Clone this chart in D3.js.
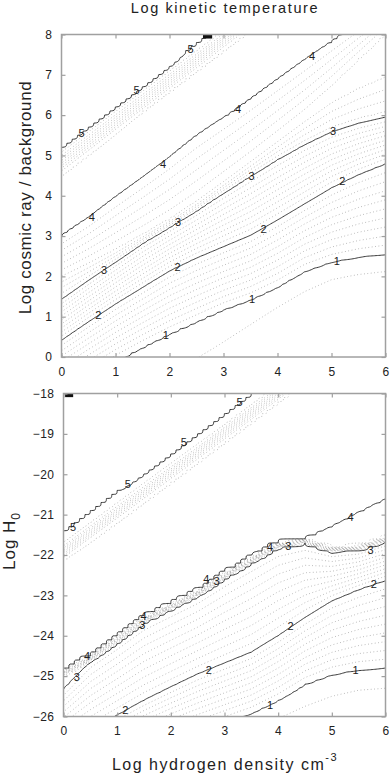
<!DOCTYPE html>
<html lang="en">
<head>
<meta charset="UTF-8">
<script src="https://d3js.org/d3.v7.min.js"></script>
<style>
  body { margin: 0; background: #fff; }
  svg { display: block; font-family: "Liberation Sans", Arial, sans-serif; }
</style>
</head>
<body>
<svg width="390" height="775"></svg>
<script>
var xCols = [0, 0.5, 1, 1.5, 2, 2.5, 3, 3.5, 4, 4.5, 5, 5.5, 6];

// top panel: y (log cosmic ray / background) of each temperature level per column
var top09 = [-2.0, -1.6, -1.25, -0.9, -0.5, -0.05, 0.36, 0.8, 1.23, 1.62, 1.92, 2.05, 2.12];
var top1  = [-0.9, -0.5, -0.1, 0.26, 0.59, 0.89, 1.19, 1.43, 1.74, 2.13, 2.36, 2.48, 2.55];
var top2  = [0.42, 0.88, 1.32, 1.73, 2.14, 2.46, 2.74, 3.02, 3.4, 3.8, 4.2, 4.53, 4.8];
var top3  = [1.42, 1.9, 2.36, 2.82, 3.22, 3.63, 4.07, 4.49, 4.9, 5.27, 5.59, 5.8, 5.95];
var top31 = [1.58, 2.0, 2.42, 2.87, 3.27, 3.68, 4.13, 4.56, 4.98, 5.36, 5.69, 5.91, 6.07];
var top34 = [2.0, 2.32, 2.66, 3.02, 3.4, 3.83, 4.32, 4.82, 5.32, 5.82, 6.29, 6.64, 6.92];
var top35 = [2.16, 2.5, 2.87, 3.25, 3.65, 4.1, 4.6, 5.1, 5.62, 6.15, 6.75, 7.4, 8.05];
var top4  = [2.97, 3.42, 3.93, 4.42, 4.92, 5.46, 5.91, 6.37, 6.85, 7.33, 7.8, 8.25, 8.7];
var top41 = [4.56, 5.07, 5.59, 6.1, 6.62, 7.13, 7.65, 8.16, 8.68, 9.19, 9.71, 10.22, 10.74];
var top49 = [5.06, 5.56, 6.06, 6.56, 7.06, 7.56, 8.06, 8.56, 9.06, 9.56, 10.06, 10.56, 11.06];
var top5  = [5.21, 5.73, 6.25, 6.77, 7.29, 7.81, 8.33, 8.85, 9.37, 9.89, 10.41, 10.93, 11.45];

// bottom panel: y (log H0) of each temperature level per column
var bot09 = [-28.0, -27.8, -27.6, -27.4, -27.15, -26.9, -26.6, -26.3, -26.05, -25.75, -25.5, -25.35, -25.3];
var bot1  = [-27.6, -27.35, -27.1, -26.85, -26.6, -26.38, -26.15, -25.92, -25.6, -25.2, -24.96, -24.84, -24.8];
var bot2  = [-26.7, -26.35, -25.97, -25.6, -25.27, -24.95, -24.68, -24.41, -24.0, -23.55, -23.13, -22.85, -22.62];
var bot3  = [-25.34, -24.62, -24.16, -23.67, -23.34, -23.01, -22.58, -22.19, -21.82, -21.7, -21.92, -21.88, -21.68];
var bot31 = [-24.98, -24.6, -24.14, -23.65, -23.32, -22.99, -22.56, -22.17, -21.8, -21.69, -21.9, -21.86, -21.66];
var bot39 = [-24.9, -24.52, -24.06, -23.57, -23.24, -22.91, -22.48, -22.09, -21.72, -21.64, -21.82, -21.78, -21.58];
var bot4  = [-24.88, -24.5, -24.04, -23.55, -23.22, -22.89, -22.46, -22.07, -21.7, -21.63, -21.33, -20.97, -20.64];
var bot41 = [-22.1, -21.61, -21.12, -20.63, -20.14, -19.65, -19.16, -18.67, -18.18, -17.69, -17.2, -16.71, -16.22];
var bot49 = [-21.74, -21.25, -20.76, -20.27, -19.78, -19.29, -18.8, -18.31, -17.82, -17.33, -16.84, -16.35, -15.86];
var bot5  = [-21.38, -20.89, -20.4, -19.91, -19.42, -18.93, -18.44, -17.95, -17.46, -16.97, -16.48, -15.99, -15.5];

// contour levels: every 0.1, integers solid
var levels = d3.range(9, 51).map(function(d) { return d / 10; });

// labels on the solid lines
var topLabX = [0.37, 1.39, 2.39, 0.56, 1.88, 3.27, 4.64, 0.79, 2.16, 3.52, 5.03, 0.68, 2.15, 3.74, 5.2, 1.93, 3.53, 5.1];
var topLabY = [5.55, 6.62, 7.64, 3.47, 4.8, 6.15, 7.46, 2.16, 3.34, 4.5, 5.61, 1.04, 2.24, 3.17, 4.36, 0.55, 1.44, 2.39];
var topLabT = ["5", "5", "5", "4", "4", "4", "4", "3", "3", "3", "3", "2", "2", "2", "2", "1", "1", "1"];
var botLabX = [0.18, 1.2, 2.24, 3.28, 0.44, 1.49, 2.66, 3.85, 5.35, 0.25, 1.47, 2.85, 4.19, 5.72, 1.15, 2.71, 4.23, 5.78, 3.85, 5.44];
var botLabY = [-21.3, -20.25, -19.19, -18.2, -24.51, -23.52, -22.6, -21.79, -21.07, -25.03, -23.73, -22.64, -21.77, -21.87, -25.83, -24.84, -23.77, -22.72, -25.71, -24.84];
var botLabT = ["5", "5", "5", "5", "4", "4", "4", "4", "4", "3", "3", "3", "3", "3", "2", "2", "2", "2", "1", "1"];

// dark blobs where the level-5 contour bunches up at the top edge
var topBlob = [2.62, 2.79, 7.9, 8.0];
var botBlob = [0.03, 0.18, -18.09, -18.0];

var xTicks = [0, 1, 2, 3, 4, 5, 6];
var topTicks = [0, 1, 2, 3, 4, 5, 6, 7, 8];
var botTicks = [-26, -25, -24, -23, -22, -21, -20, -19, -18];

var svg = d3.select("svg");
var step = 0.1;   // model grid spacing
var k = 4;        // bilinear refinement for contouring

// temperature on the 0.1 grid, then bilinearly refined
function buildField(anchors, yMin, yMax) {
    var nx = Math.round(6 / step) + 1, ny = Math.round((yMax - yMin) / step) + 1;
    var posScales = anchors.map(function(a) { return d3.scaleLinear().domain(xCols).range(a[1]); });
    var lv = anchors.map(function(a) { return a[0]; });
    var coarse = new Array(nx * ny);
    for (var i = 0; i < nx; i++) {
        var ys = posScales.map(function(s) { return s(i / 10); });
        var tOfY = d3.scaleLinear().domain(ys).range(lv).clamp(true);
        for (var j = 0; j < ny; j++) coarse[j * nx + i] = tOfY(yMin + j / 10);
    }
    var fx = (nx - 1) * k + 1, fy = (ny - 1) * k + 1;
    var fine = new Float64Array(fx * fy);
    for (var q = 0; q < fy; q++) {
        var j0 = Math.min(Math.floor(q / k), ny - 2), ty = q / k - j0;
        for (var p = 0; p < fx; p++) {
            var i0 = Math.min(Math.floor(p / k), nx - 2), tx = p / k - i0;
            var a = coarse[j0 * nx + i0], b = coarse[j0 * nx + i0 + 1],
                c = coarse[(j0 + 1) * nx + i0], d = coarse[(j0 + 1) * nx + i0 + 1];
            fine[q * fx + p] = (a * (1 - tx) + b * tx) * (1 - ty) + (c * (1 - tx) + d * tx) * ty;
        }
    }
    return {nx: fx, ny: fy, values: fine};
}

function panel(id, box, yDomain, yTicks, anchors, labX, labY, labT, blob) {
    var x = d3.scaleLinear().domain([0, 6]).range([box.l, box.r]);
    var y = d3.scaleLinear().domain(yDomain).range([box.b, box.t]);

    svg.append("clipPath").attr("id", id)
        .append("rect").attr("x", box.l).attr("y", box.t)
        .attr("width", box.r - box.l).attr("height", box.b - box.t);

    var f = buildField(anchors, yDomain[0], yDomain[1]);
    var cs = d3.contours().size([f.nx, f.ny]).thresholds(levels)(f.values);
    var h = step / k;
    var path = d3.geoPath(d3.geoTransform({point: function(cx, cy) {
        this.stream.point(x((cx - 0.5) * h), y(yDomain[0] + (cy - 0.5) * h));
    }}));

    var g = svg.append("g").attr("clip-path", "url(#" + id + ")");
    g.selectAll("path").data(cs).enter().append("path")
        .attr("d", path)
        .attr("fill", "none")
        .each(function(d) {
            var solid = Math.abs(d.value - Math.round(d.value)) < 1e-6;
            d3.select(this)
                .attr("stroke", solid ? "#222" : "#8a8a8a")
                .attr("stroke-width", solid ? 0.9 : 0.7)
                .attr("stroke-dasharray", solid ? null : "0.8,2.6");
        });

    g.append("rect")
        .attr("x", x(blob[0])).attr("y", y(blob[3]) - 2)
        .attr("width", x(blob[1]) - x(blob[0]))
        .attr("height", y(blob[2]) - y(blob[3]) + 2)
        .attr("fill", "#111");

    svg.append("g").selectAll("text").data(labT).enter().append("text")
        .attr("x", function(d, i) { return x(labX[i]); })
        .attr("y", function(d, i) { return y(labY[i]) + 4; })
        .attr("text-anchor", "middle")
        .attr("font-size", 11)
        .attr("fill", "#222")
        .text(function(d) { return d; });

    // frame and inward ticks
    svg.append("rect")
        .attr("x", box.l).attr("y", box.t)
        .attr("width", box.r - box.l).attr("height", box.b - box.t)
        .attr("fill", "none").attr("stroke", "#a0a0a0").attr("stroke-width", 1.5);

    var fmt = d3.format("d");
    var axes = [
        [d3.axisBottom(x).tickValues(xTicks).tickSize(-4).tickPadding(10).tickFormat(fmt), "translate(0," + box.b + ")"],
        [d3.axisTop(x).tickValues(xTicks).tickSize(-4).tickFormat(""), "translate(0," + box.t + ")"],
        [d3.axisLeft(y).tickValues(yTicks).tickSize(-4).tickPadding(9).tickFormat(fmt), "translate(" + box.l + ",0)"],
        [d3.axisRight(y).tickValues(yTicks).tickSize(-4).tickFormat(""), "translate(" + box.r + ",0)"]
    ];
    axes.forEach(function(a) {
        var ag = svg.append("g").attr("transform", a[1]).call(a[0]);
        ag.select(".domain").remove();
        ag.selectAll("line").attr("stroke", "#a0a0a0").attr("stroke-width", 1.2);
        ag.selectAll("text")
            .attr("font-size", 12)
            .attr("font-family", "'Liberation Sans', Arial, sans-serif")
            .attr("letter-spacing", 0.5)
            .attr("fill", "#222");
    });
}

panel("clipTop", {l: 61.5, r: 385.5, t: 34.5, b: 357}, [0, 8], topTicks,
    [[0.5, top09.map(function(v) { return v - 2; })], [0.9, top09], [1, top1], [2, top2], [3, top3],
     [3.1, top31], [3.4, top34], [3.5, top35], [4, top4], [4.1, top41], [4.9, top49], [5, top5],
     [6, top5.map(function(v) { return v + 0.02; })]],
    topLabX, topLabY, topLabT, topBlob);

panel("clipBot", {l: 63.5, r: 385.5, t: 393.5, b: 716.5}, [-26, -18], botTicks,
    [[0.5, bot09.map(function(v) { return v - 2; })], [0.9, bot09], [1, bot1], [2, bot2], [3, bot3],
     [3.1, bot31], [3.9, bot39], [4, bot4], [4.1, bot41], [4.9, bot49], [5, bot5],
     [6, bot5.map(function(v) { return v + 0.02; })]],
    botLabX, botLabY, botLabT, botBlob);

// titles
svg.append("text")
    .attr("x", 225).attr("y", 13)
    .attr("text-anchor", "middle")
    .attr("font-size", 14.5).attr("letter-spacing", 1.6).attr("fill", "#222")
    .text("Log kinetic temperature");

svg.append("text")
    .attr("transform", "translate(31,197.5) rotate(-90)")
    .attr("text-anchor", "middle")
    .attr("font-size", 17).attr("letter-spacing", 0.6).attr("fill", "#222")
    .text("Log cosmic ray / background");

var h0 = svg.append("text")
    .attr("transform", "translate(15,541) rotate(-90)")
    .attr("text-anchor", "middle")
    .attr("font-size", 17).attr("letter-spacing", 1).attr("fill", "#222");
h0.append("tspan").text("Log H");
h0.append("tspan").attr("font-size", 12).attr("dy", 5).text("0");

var xl = svg.append("text")
    .attr("x", 225).attr("y", 770)
    .attr("text-anchor", "middle")
    .attr("font-size", 16).attr("letter-spacing", 1.5).attr("fill", "#222");
xl.append("tspan").text("Log hydrogen density cm");
xl.append("tspan").attr("font-size", 11).attr("dy", -9).text("-3");
</script>
</body>
</html>
